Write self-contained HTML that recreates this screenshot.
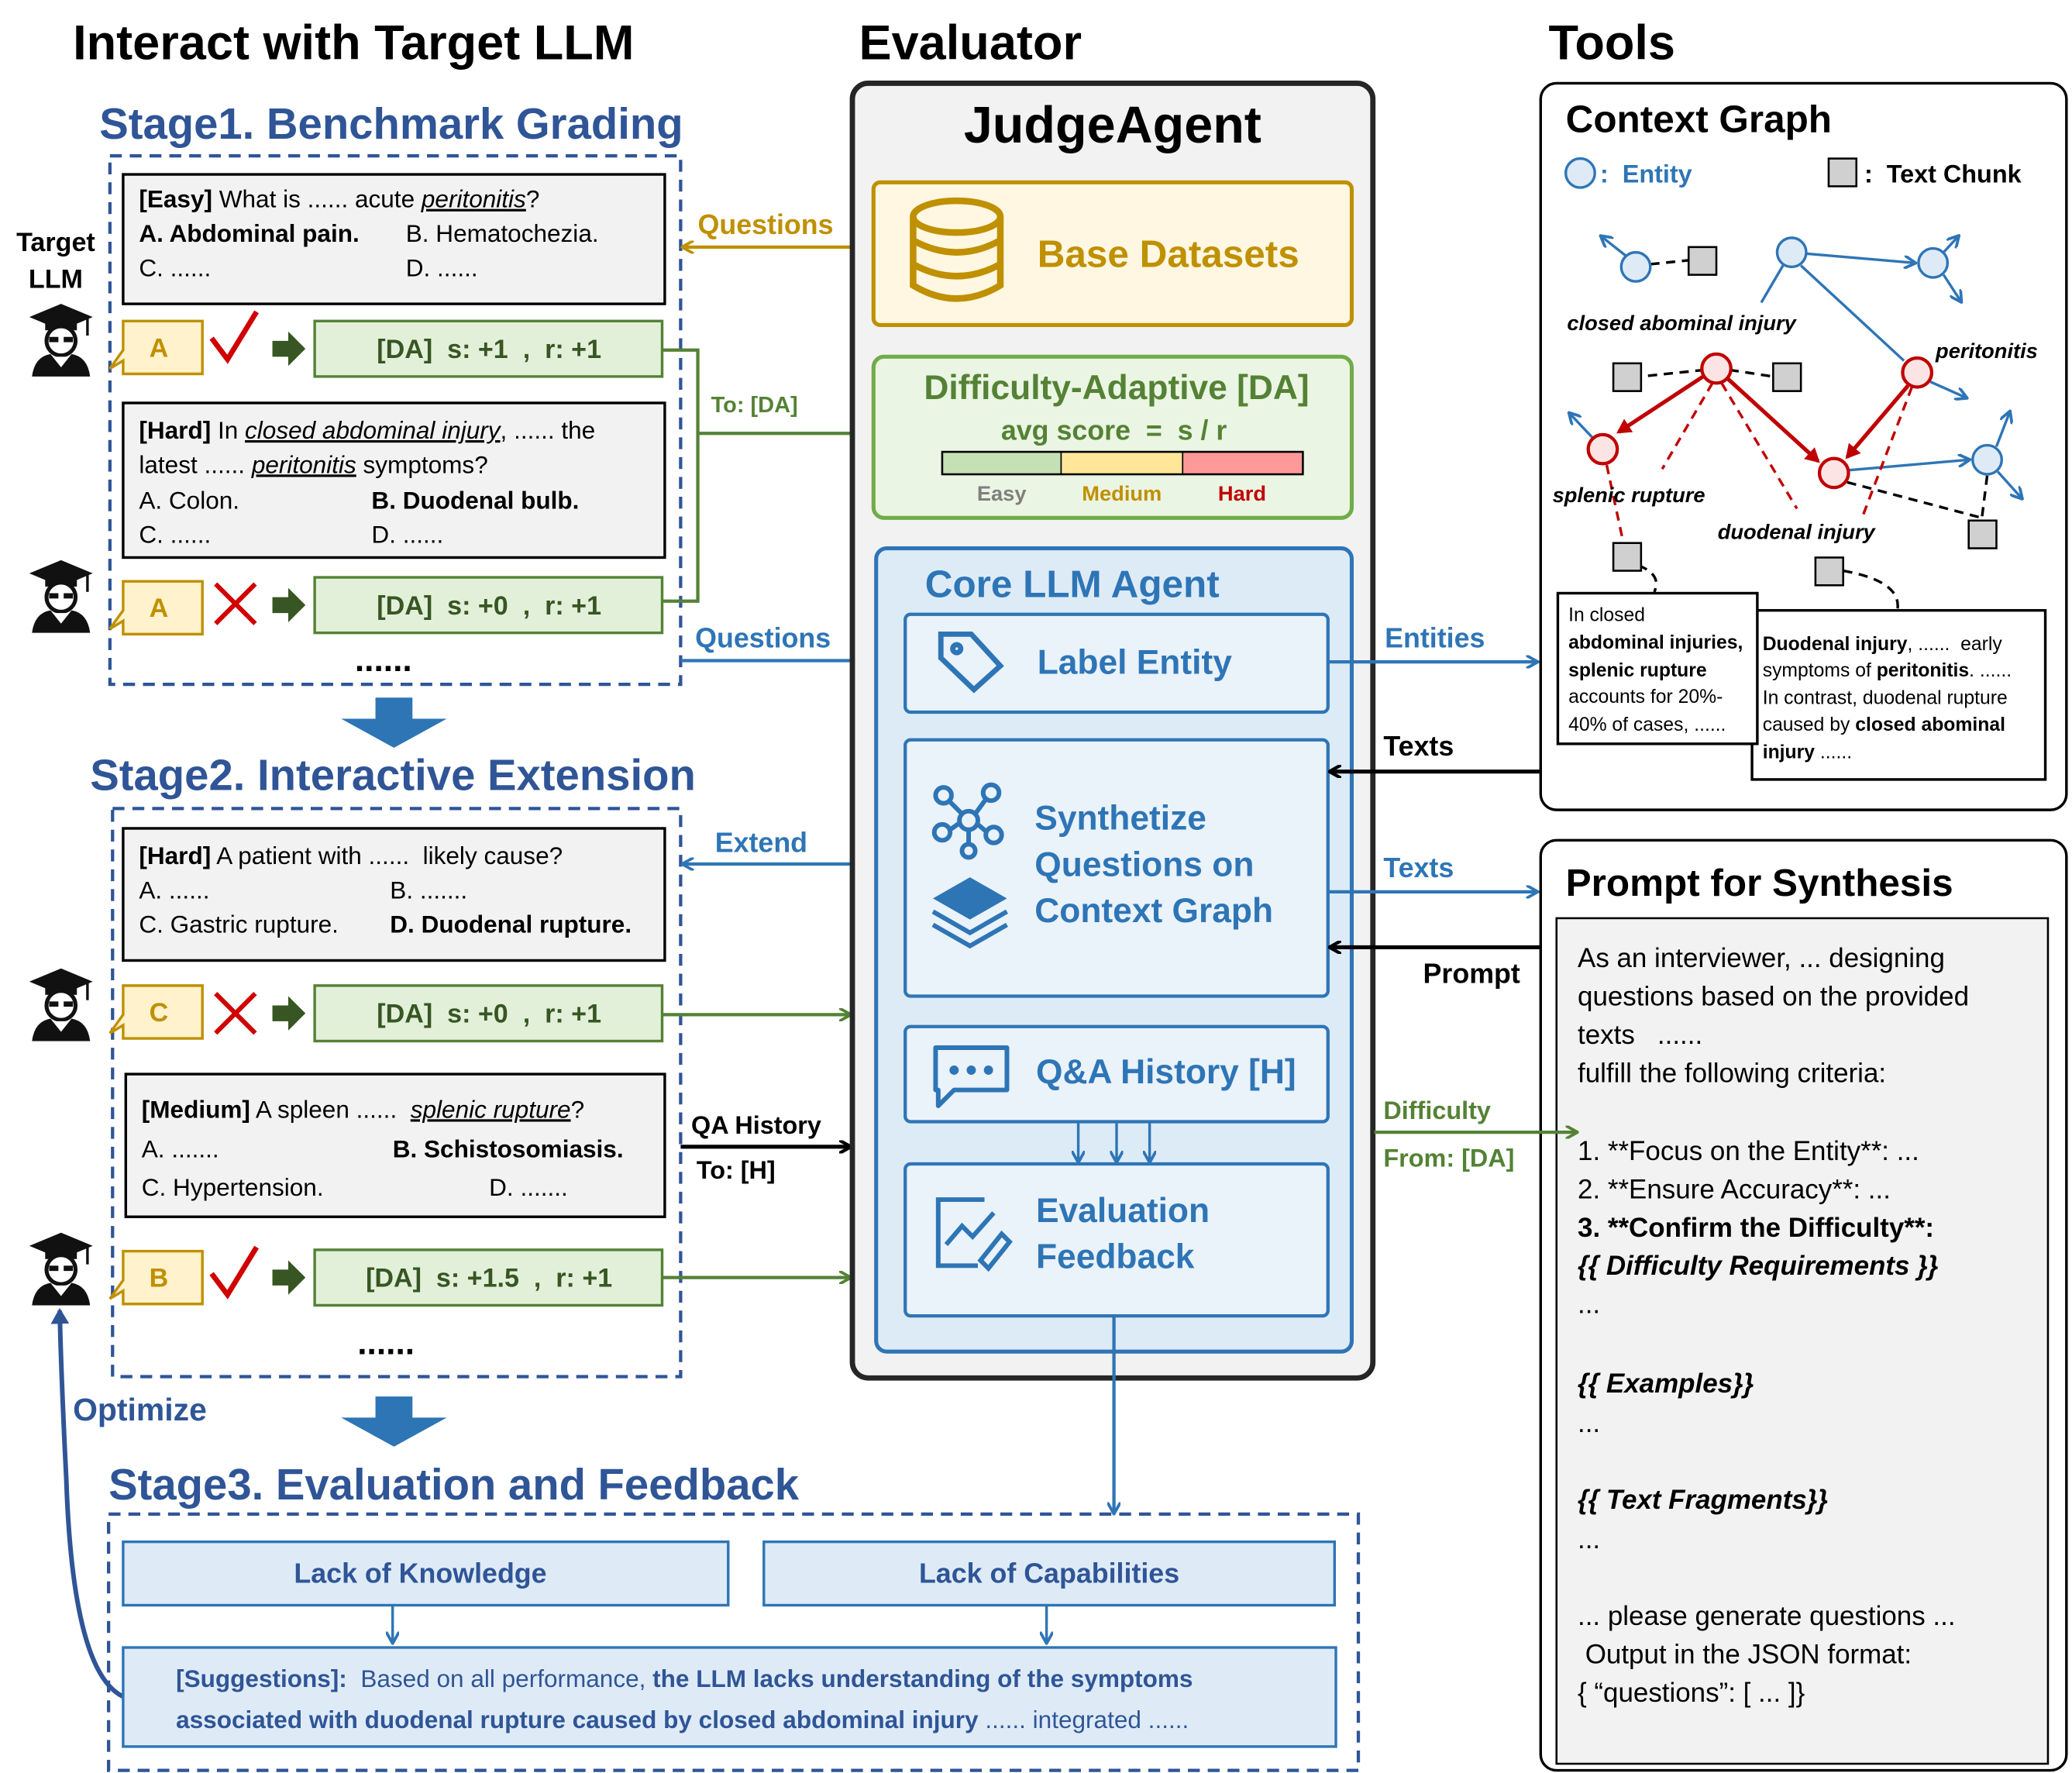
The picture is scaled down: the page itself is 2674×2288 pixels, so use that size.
<!DOCTYPE html>
<html><head><meta charset="utf-8">
<style>
html,body{margin:0;padding:0;background:#fff;}
svg{display:block;}
text{font-family:"Liberation Sans",Arial,sans-serif;white-space:pre;}
.b{font-weight:bold;}
.q{font-size:18.5px;}
</style></head><body>
<svg width="2674" height="2288" viewBox="0 0 1568 1342" xmlns="http://www.w3.org/2000/svg" xml:space="preserve">
<defs>
<marker id="ab" markerWidth="10" markerHeight="10" refX="8" refY="5" orient="auto" markerUnits="userSpaceOnUse"><path d="M0,0 L9,5 L0,10" fill="none" stroke="#2E75B6" stroke-width="2.2"/></marker>
<marker id="ak" markerWidth="10" markerHeight="10" refX="8" refY="5" orient="auto" markerUnits="userSpaceOnUse"><path d="M0,0 L9,5 L0,10" fill="none" stroke="#000" stroke-width="2.5"/></marker>
<marker id="ag" markerWidth="10" markerHeight="10" refX="8" refY="5" orient="auto" markerUnits="userSpaceOnUse"><path d="M0,0 L9,5 L0,10" fill="none" stroke="#548235" stroke-width="2.2"/></marker>
<marker id="ay" markerWidth="10" markerHeight="10" refX="8" refY="5" orient="auto" markerUnits="userSpaceOnUse"><path d="M0,0 L9,5 L0,10" fill="none" stroke="#BF9000" stroke-width="2.2"/></marker>
<marker id="ar" markerWidth="12" markerHeight="12" refX="9" refY="6" orient="auto" markerUnits="userSpaceOnUse"><path d="M0,0 L11,6 L0,12 Z" fill="#C00000"/></marker>
<marker id="ad" markerWidth="14" markerHeight="14" refX="10" refY="7" orient="auto" markerUnits="userSpaceOnUse"><path d="M0,0 L12,7 L0,14 Z" fill="#2F5597"/></marker>
<g id="person">
<polygon points="0,10 24,0 48,10 24,20" fill="#111"/>
<rect x="12" y="12" width="24" height="8" fill="#111"/>
<line x1="44" y1="11" x2="44" y2="24" stroke="#111" stroke-width="2"/>
<circle cx="24" cy="28" r="11" fill="#fff" stroke="#111" stroke-width="3"/>
<rect x="15" y="25" width="7" height="4" fill="#111"/><rect x="26" y="25" width="7" height="4" fill="#111"/>
<path d="M2,55 Q4,40 16,38 L24,48 L32,38 Q44,40 46,55 Z" fill="#111"/>
<path d="M20,40 L24,46 L28,40" fill="#fff"/>
</g>
<g id="check"><path d="M0,20 L12,36 L34,0" fill="none" stroke="#D00000" stroke-width="4"/></g>
<g id="cross"><path d="M0,0 L30,30 M30,0 L0,30" stroke="#D00000" stroke-width="3.5"/></g>
<g id="garr"><path d="M0,-6 L12,-6 L12,-13 L25,0 L12,13 L12,6 L0,6 Z" fill="#375623"/></g>
</defs>

<text x="55" y="45" font-size="37" class="b">Interact with Target LLM</text>
<text x="650" y="45" font-size="37" class="b">Evaluator</text>
<text x="1172" y="45" font-size="37" class="b">Tools</text>

<text x="75" y="105" font-size="33" class="b" fill="#2F5597">Stage1. Benchmark Grading</text>
<rect x="83" y="118" width="432" height="400" fill="none" stroke="#2F5597" stroke-width="2.5" stroke-dasharray="9,6"/>
<rect x="93" y="132" width="410" height="98" fill="#F2F2F2" stroke="#000" stroke-width="2"/>
<text x="105" y="157" class="q"><tspan class="b">[Easy]</tspan> What is ...... acute <tspan font-style="italic" text-decoration="underline">peritonitis</tspan>?</text>
<text x="105" y="183" class="q b">A. Abdominal pain.</text><text x="307" y="183" class="q">B. Hematochezia.</text>
<text x="105" y="209" class="q">C. ......</text><text x="307" y="209" class="q">D. ......</text>
<text x="42" y="190" font-size="20" class="b" text-anchor="middle">Target</text>
<text x="42" y="218" font-size="20" class="b" text-anchor="middle">LLM</text>
<use href="#person" x="22" y="230"/>
<path d="M93,243 h60 v40 h-60 v-10 l-10,6 l10,-14 Z" fill="#FFF2CC" stroke="#BF9000" stroke-width="2"/>
<text x="120" y="270" font-size="20" fill="#BF9000" class="b" text-anchor="middle">A</text>
<use href="#check" x="160" y="236"/>
<use href="#garr" x="206" y="264"/>
<rect x="238" y="243" width="263" height="42" fill="#E2F0D9" stroke="#548235" stroke-width="2"/>
<text x="370" y="271" font-size="20" class="b" fill="#375623" text-anchor="middle">[DA]  s: +1  ,  r: +1</text>

<rect x="93" y="305" width="410" height="117" fill="#F2F2F2" stroke="#000" stroke-width="2"/>
<text x="105" y="332" class="q"><tspan class="b">[Hard]</tspan> In <tspan font-style="italic" text-decoration="underline">closed abdominal injury</tspan>, ...... the</text>
<text x="105" y="358" class="q">latest ...... <tspan font-style="italic" text-decoration="underline">peritonitis</tspan> symptoms?</text>
<text x="105" y="385" class="q">A. Colon.</text><text x="281" y="385" class="q b">B. Duodenal bulb.</text>
<text x="105" y="411" class="q">C. ......</text><text x="281" y="411" class="q">D. ......</text>
<use href="#person" x="22" y="424"/>
<path d="M93,440 h60 v40 h-60 v-10 l-10,6 l10,-14 Z" fill="#FFF2CC" stroke="#BF9000" stroke-width="2"/>
<text x="120" y="467" font-size="20" fill="#BF9000" class="b" text-anchor="middle">A</text>
<use href="#cross" x="163" y="442"/>
<use href="#garr" x="206" y="458"/>
<rect x="238" y="437" width="263" height="42" fill="#E2F0D9" stroke="#548235" stroke-width="2"/>
<text x="370" y="465" font-size="20" class="b" fill="#375623" text-anchor="middle">[DA]  s: +0  ,  r: +1</text>
<text x="290" y="508" font-size="26" class="b" text-anchor="middle">......</text>

<path d="M501,265 H528 V455 H501" fill="none" stroke="#548235" stroke-width="2.5"/>
<line x1="528" y1="328" x2="658" y2="328" stroke="#548235" stroke-width="2.5" marker-end="url(#ag)"/>
<text x="538" y="312" font-size="17" class="b" fill="#548235">To: [DA]</text>
<line x1="660" y1="187" x2="517" y2="187" stroke="#BF9000" stroke-width="2.5" marker-end="url(#ay)"/>
<text x="528" y="177" font-size="21" class="b" fill="#BF9000">Questions</text>
<line x1="515" y1="500" x2="681" y2="500" stroke="#2E75B6" stroke-width="2.5" marker-end="url(#ab)"/>
<text x="526" y="490" font-size="21" class="b" fill="#2E75B6">Questions</text>

<path d="M284,528 h28 v16 h26 l-40,22 l-40,-22 h26 Z" fill="#2E75B6"/>
<path d="M284,1057 h28 v16 h26 l-40,22 l-40,-22 h26 Z" fill="#2E75B6"/>

<text x="68" y="598" font-size="33" class="b" fill="#2F5597">Stage2. Interactive Extension</text>
<rect x="85" y="612" width="430" height="430" fill="none" stroke="#2F5597" stroke-width="2.5" stroke-dasharray="9,6"/>
<rect x="93" y="627" width="410" height="100" fill="#F2F2F2" stroke="#000" stroke-width="2"/>
<text x="105" y="654" class="q"><tspan class="b">[Hard]</tspan> A patient with ......  likely cause?</text>
<text x="105" y="680" class="q">A. ......</text><text x="295" y="680" class="q">B. .......</text>
<text x="105" y="706" class="q">C. Gastric rupture.</text><text x="295" y="706" class="q b">D. Duodenal rupture.</text>
<use href="#person" x="22" y="733"/>
<path d="M93,746 h60 v40 h-60 v-10 l-10,6 l10,-14 Z" fill="#FFF2CC" stroke="#BF9000" stroke-width="2"/>
<text x="120" y="773" font-size="20" fill="#BF9000" class="b" text-anchor="middle">C</text>
<use href="#cross" x="163" y="752"/>
<use href="#garr" x="206" y="767"/>
<rect x="238" y="746" width="263" height="42" fill="#E2F0D9" stroke="#548235" stroke-width="2"/>
<text x="370" y="774" font-size="20" class="b" fill="#375623" text-anchor="middle">[DA]  s: +0  ,  r: +1</text>
<line x1="501" y1="768" x2="643" y2="768" stroke="#548235" stroke-width="2.5" marker-end="url(#ag)"/>

<rect x="95" y="813" width="408" height="108" fill="#F2F2F2" stroke="#000" stroke-width="2"/>
<text x="107" y="846" class="q"><tspan class="b">[Medium]</tspan> A spleen ......  <tspan font-style="italic" text-decoration="underline">splenic rupture</tspan>?</text>
<text x="107" y="876" class="q">A. .......</text><text x="297" y="876" class="q b">B. Schistosomiasis.</text>
<text x="107" y="905" class="q">C. Hypertension.</text><text x="370" y="905" class="q">D. .......</text>
<use href="#person" x="22" y="933"/>
<path d="M93,947 h60 v40 h-60 v-10 l-10,6 l10,-14 Z" fill="#FFF2CC" stroke="#BF9000" stroke-width="2"/>
<text x="120" y="974" font-size="20" fill="#BF9000" class="b" text-anchor="middle">B</text>
<use href="#check" x="160" y="944"/>
<use href="#garr" x="206" y="967"/>
<rect x="238" y="946" width="263" height="42" fill="#E2F0D9" stroke="#548235" stroke-width="2"/>
<text x="370" y="974" font-size="20" class="b" fill="#375623" text-anchor="middle">[DA]  s: +1.5  ,  r: +1</text>
<line x1="501" y1="967" x2="643" y2="967" stroke="#548235" stroke-width="2.5" marker-end="url(#ag)"/>
<text x="292" y="1025" font-size="26" class="b" text-anchor="middle">......</text>

<line x1="685" y1="654" x2="517" y2="654" stroke="#2E75B6" stroke-width="2.5" marker-end="url(#ab)"/>
<text x="541" y="645" font-size="21" class="b" fill="#2E75B6">Extend</text>
<line x1="515" y1="868" x2="643" y2="868" stroke="#000" stroke-width="3" marker-end="url(#ak)"/>
<text x="523" y="858" font-size="19" class="b">QA History</text>
<text x="527" y="892" font-size="19" class="b">To: [H]</text>

<path d="M95,1285 Q55,1270 50,1120 Q46,1040 45,992" fill="none" stroke="#2F5597" stroke-width="3.5" marker-end="url(#ad)"/>
<text x="55" y="1075" font-size="24" class="b" fill="#2F5597">Optimize</text>

<text x="82" y="1135" font-size="33" class="b" fill="#2F5597">Stage3. Evaluation and Feedback</text>
<rect x="82" y="1146" width="946" height="194" fill="none" stroke="#2F5597" stroke-width="2.5" stroke-dasharray="9,6"/>
<rect x="93" y="1167" width="458" height="48" fill="#DEEBF7" stroke="#2E75B6" stroke-width="2"/>
<text x="318" y="1198" font-size="21" class="b" fill="#2F5597" text-anchor="middle">Lack of Knowledge</text>
<rect x="578" y="1167" width="432" height="48" fill="#DEEBF7" stroke="#2E75B6" stroke-width="2"/>
<text x="794" y="1198" font-size="21" class="b" fill="#2F5597" text-anchor="middle">Lack of Capabilities</text>
<line x1="297" y1="1215" x2="297" y2="1243" stroke="#2E75B6" stroke-width="2" marker-end="url(#ab)"/>
<line x1="792" y1="1215" x2="792" y2="1243" stroke="#2E75B6" stroke-width="2" marker-end="url(#ab)"/>
<rect x="93" y="1247" width="918" height="75" fill="#DEEBF7" stroke="#2E75B6" stroke-width="2"/>
<text x="133" y="1277" font-size="18.5" fill="#2F5597"><tspan class="b">[Suggestions]:</tspan>  Based on all performance, <tspan class="b">the LLM lacks understanding of the symptoms</tspan></text>
<text x="133" y="1308" font-size="18.5" fill="#2F5597"><tspan class="b">associated with duodenal rupture caused by closed abdominal injury</tspan> ...... integrated ......</text>

<rect x="645" y="63" width="394" height="980" rx="12" fill="#F2F2F2" stroke="#262626" stroke-width="4"/>
<text x="842" y="108" font-size="39" class="b" text-anchor="middle">JudgeAgent</text>
<rect x="661" y="138" width="362" height="108" rx="5" fill="#FFF7E1" stroke="#BF9000" stroke-width="3"/>
<g fill="none" stroke="#BF9000" stroke-width="5">
<ellipse cx="724" cy="164" rx="33" ry="12"/>
<path d="M691,164 V216 Q724,236 757,216 V164"/>
<path d="M691,182 Q724,200 757,182"/><path d="M691,200 Q724,218 757,200"/>
</g>
<text x="785" y="202" font-size="29" class="b" fill="#BF9000">Base Datasets</text>
<rect x="661" y="270" width="362" height="122" rx="8" fill="#EBF5E3" stroke="#70AD47" stroke-width="3"/>
<text x="845" y="302" font-size="26" class="b" fill="#548235" text-anchor="middle">Difficulty-Adaptive [DA]</text>
<text x="843" y="333" font-size="21" class="b" fill="#548235" text-anchor="middle">avg score  =  s / r</text>
<rect x="713" y="342" width="90" height="17" fill="#C5E0B4"/><rect x="803" y="342" width="92" height="17" fill="#FFE699"/><rect x="895" y="342" width="91" height="17" fill="#FF9999"/>
<rect x="713" y="342" width="273" height="17" fill="none" stroke="#000" stroke-width="1.5"/>
<line x1="803" y1="342" x2="803" y2="359" stroke="#000"/><line x1="895" y1="342" x2="895" y2="359" stroke="#000"/>
<text x="758" y="379" font-size="16" class="b" fill="#7F7F7F" text-anchor="middle">Easy</text>
<text x="849" y="379" font-size="16" class="b" fill="#BF9000" text-anchor="middle">Medium</text>
<text x="940" y="379" font-size="16" class="b" fill="#C00000" text-anchor="middle">Hard</text>

<rect x="663" y="415" width="360" height="608" rx="8" fill="#DDEBF7" stroke="#2E75B6" stroke-width="3"/>
<text x="700" y="452" font-size="29" class="b" fill="#2E75B6">Core LLM Agent</text>
<rect x="685" y="465" width="320" height="74" rx="4" fill="#EAF2FA" stroke="#2E75B6" stroke-width="2.5"/>
<g fill="none" stroke="#2E75B6" stroke-width="4"><path d="M712,480 L735,480 L757,504 L737,522 L712,498 Z"/><circle cx="724" cy="491" r="3"/></g>
<text x="785" y="510" font-size="26" class="b" fill="#2E75B6">Label Entity</text>
<rect x="685" y="560" width="320" height="194" rx="4" fill="#EAF2FA" stroke="#2E75B6" stroke-width="2.5"/>
<g fill="none" stroke="#2E75B6" stroke-width="3.5">
<circle cx="733" cy="621" r="7"/><circle cx="714" cy="602" r="6"/><circle cx="750" cy="600" r="6"/><circle cx="713" cy="630" r="6"/><circle cx="752" cy="632" r="6"/><circle cx="733" cy="644" r="5"/>
<path d="M728,616 L718,606 M738,616 L746,605 M726,623 L719,628 M740,624 L747,630 M733,628 L733,639"/>
</g>
<path d="M734,664 L762,680 L734,696 L706,680 Z" fill="#2E75B6"/>
<path d="M706,690 L734,706 L762,690 M706,700 L734,716 L762,700" fill="none" stroke="#2E75B6" stroke-width="3.5"/>
<text x="783" y="628" font-size="26" class="b" fill="#2E75B6">Synthetize</text>
<text x="783" y="663" font-size="26" class="b" fill="#2E75B6">Questions on</text>
<text x="783" y="698" font-size="26" class="b" fill="#2E75B6">Context Graph</text>
<rect x="685" y="777" width="320" height="72" rx="4" fill="#EAF2FA" stroke="#2E75B6" stroke-width="2.5"/>
<path d="M708,793 h54 v32 h-40 l-12,12 v-12 h-2 Z" fill="none" stroke="#2E75B6" stroke-width="3.5" stroke-linejoin="round"/>
<circle cx="722" cy="810" r="3.5" fill="#2E75B6"/><circle cx="735" cy="810" r="3.5" fill="#2E75B6"/><circle cx="748" cy="810" r="3.5" fill="#2E75B6"/>
<text x="784" y="820" font-size="26" class="b" fill="#2E75B6">Q&amp;A History [H]</text>
<line x1="816" y1="849" x2="816" y2="879" stroke="#2E75B6" stroke-width="2" marker-end="url(#ab)"/>
<line x1="845" y1="849" x2="845" y2="879" stroke="#2E75B6" stroke-width="2" marker-end="url(#ab)"/>
<line x1="870" y1="849" x2="870" y2="879" stroke="#2E75B6" stroke-width="2" marker-end="url(#ab)"/>
<rect x="685" y="881" width="320" height="115" rx="4" fill="#EAF2FA" stroke="#2E75B6" stroke-width="2.5"/>
<g fill="none" stroke="#2E75B6" stroke-width="3.5"><path d="M745,908 H710 V958 H740"/><path d="M716,942 L728,928 L736,936 L752,918"/><path d="M748,960 L764,940 L758,934 L742,954 Z"/></g>
<text x="784" y="925" font-size="26" class="b" fill="#2E75B6">Evaluation</text>
<text x="784" y="960" font-size="26" class="b" fill="#2E75B6">Feedback</text>
<line x1="843" y1="996" x2="843" y2="1145" stroke="#2E75B6" stroke-width="2.5" marker-end="url(#ab)"/>

<line x1="1005" y1="501" x2="1163" y2="501" stroke="#2E75B6" stroke-width="2.5" marker-end="url(#ab)"/>
<text x="1048" y="490" font-size="21" class="b" fill="#2E75B6">Entities</text>
<line x1="1165" y1="584" x2="1007" y2="584" stroke="#000" stroke-width="3" marker-end="url(#ak)"/>
<text x="1047" y="572" font-size="21" class="b">Texts</text>
<line x1="1005" y1="675" x2="1163" y2="675" stroke="#2E75B6" stroke-width="2.5" marker-end="url(#ab)"/>
<text x="1047" y="664" font-size="21" class="b" fill="#2E75B6">Texts</text>
<line x1="1165" y1="717" x2="1007" y2="717" stroke="#000" stroke-width="3" marker-end="url(#ak)"/>
<text x="1077" y="744" font-size="21" class="b">Prompt</text>
<text x="1047" y="847" font-size="19" class="b" fill="#548235">Difficulty</text>
<text x="1047" y="883" font-size="19" class="b" fill="#548235">From: [DA]</text>

<rect x="1166" y="63" width="398" height="550" rx="12" fill="#fff" stroke="#000" stroke-width="2"/>
<text x="1185" y="100" font-size="29" class="b">Context Graph</text>
<circle cx="1196" cy="131" r="11" fill="#DEEBF7" stroke="#2E75B6" stroke-width="2"/>
<text x="1211" y="138" font-size="19" class="b" fill="#2E75B6">:  Entity</text>
<rect x="1384" y="120" width="21" height="21" fill="#D0D0D0" stroke="#000" stroke-width="1.5"/>
<text x="1411" y="138" font-size="19" class="b">:  Text Chunk</text>
<g stroke="#2E75B6" stroke-width="2" fill="none">
<line x1="1231" y1="194" x2="1212" y2="179" marker-end="url(#ab)"/>
<line x1="1350" y1="200" x2="1333" y2="229"/>
<line x1="1367" y1="192" x2="1449" y2="199" marker-end="url(#ab)"/>
<line x1="1471" y1="191" x2="1482" y2="179" marker-end="url(#ab)"/>
<line x1="1471" y1="208" x2="1484" y2="228" marker-end="url(#ab)"/>
<line x1="1363" y1="201" x2="1441" y2="273"/>
<line x1="1461" y1="289" x2="1488" y2="301" marker-end="url(#ab)"/>
<line x1="1205" y1="331" x2="1188" y2="313" marker-end="url(#ab)"/>
<line x1="1398" y1="356" x2="1490" y2="348" marker-end="url(#ab)"/>
<line x1="1511" y1="338" x2="1521" y2="312" marker-end="url(#ab)"/>
<line x1="1512" y1="357" x2="1530" y2="377" marker-end="url(#ab)"/>
</g>
<g stroke="#000" stroke-width="2" fill="none" stroke-dasharray="7,5">
<line x1="1249" y1="200" x2="1278" y2="197"/>
<line x1="1290" y1="280" x2="1242" y2="285"/>
<line x1="1309" y1="280" x2="1342" y2="285"/>
<line x1="1398" y1="365" x2="1500" y2="392"/>
<line x1="1504" y1="360" x2="1500" y2="392"/>
<path d="M1240,428 Q1258,435 1252,448"/>
<path d="M1395,432 Q1440,440 1436,462"/>
</g>
<g stroke="#C00000" stroke-width="3" fill="none">
<line x1="1289" y1="285" x2="1225" y2="327" marker-end="url(#ar)"/>
<line x1="1308" y1="287" x2="1376" y2="349" marker-end="url(#ar)"/>
<line x1="1444" y1="292" x2="1398" y2="346" marker-end="url(#ar)"/>
</g>
<g stroke="#C00000" stroke-width="2" fill="none" stroke-dasharray="7,5">
<line x1="1296" y1="290" x2="1258" y2="355"/>
<line x1="1303" y1="290" x2="1360" y2="385"/>
<line x1="1447" y1="293" x2="1410" y2="390"/>
<line x1="1216" y1="352" x2="1228" y2="408"/>
</g>
<g fill="#DEEBF7" stroke="#2E75B6" stroke-width="2">
<circle cx="1238" cy="202" r="11"/><circle cx="1356" cy="191" r="11"/><circle cx="1463" cy="199" r="11"/><circle cx="1504" cy="348" r="11"/>
</g>
<g fill="#FDE4E4" stroke="#C00000" stroke-width="2.5">
<circle cx="1299" cy="279" r="11"/><circle cx="1213" cy="340" r="11"/><circle cx="1388" cy="358" r="11"/><circle cx="1451" cy="282" r="11"/>
</g>
<g fill="#D0D0D0" stroke="#000" stroke-width="1.5">
<rect x="1278" y="187" width="21" height="21"/><rect x="1221" y="275" width="21" height="21"/><rect x="1342" y="275" width="21" height="21"/><rect x="1490" y="394" width="21" height="21"/><rect x="1221" y="411" width="21" height="21"/><rect x="1374" y="422" width="21" height="21"/>
</g>
<g font-size="16" font-weight="bold" font-style="italic">
<text x="1186" y="250">closed abominal injury</text>
<text x="1465" y="271">peritonitis</text>
<text x="1175" y="380">splenic rupture</text>
<text x="1300" y="408">duodenal injury</text>
</g>
<rect x="1326" y="462" width="222" height="128" fill="#fff" stroke="#000" stroke-width="2"/>
<rect x="1179" y="449" width="151" height="114" fill="#fff" stroke="#000" stroke-width="2"/>
<g font-size="14.5">
<text x="1187" y="470">In closed</text>
<text x="1187" y="491" class="b">abdominal injuries,</text>
<text x="1187" y="512"><tspan class="b">splenic rupture</tspan></text>
<text x="1187" y="532">accounts for 20%-</text>
<text x="1187" y="553">40% of cases, ......</text>
<text x="1334" y="492"><tspan class="b">Duodenal injury</tspan>, ......  early</text>
<text x="1334" y="512">symptoms of <tspan class="b">peritonitis</tspan>. ......</text>
<text x="1334" y="533">In contrast, duodenal rupture</text>
<text x="1334" y="553">caused by <tspan class="b">closed abominal</tspan></text>
<text x="1334" y="574"><tspan class="b">injury</tspan> ......</text>
</g>

<rect x="1166" y="636" width="398" height="704" rx="12" fill="#fff" stroke="#000" stroke-width="2"/>
<text x="1185" y="678" font-size="29" class="b">Prompt for Synthesis</text>
<rect x="1178" y="695" width="372" height="640" fill="#F2F2F2" stroke="#000" stroke-width="1.5"/>
<g font-size="20.5">
<text x="1194" y="732">As an interviewer, ... designing</text>
<text x="1194" y="761">questions based on the provided</text>
<text x="1194" y="790">texts   ......</text>
<text x="1194" y="819">fulfill the following criteria:</text>
<text x="1194" y="878">1. **Focus on the Entity**: ...</text>
<text x="1194" y="907">2. **Ensure Accuracy**: ...</text>
<text x="1194" y="936" class="b">3. **Confirm the Difficulty**:</text>
<text x="1194" y="965" class="b" font-style="italic">{{ Difficulty Requirements }}</text>
<text x="1194" y="994">...</text>
<text x="1194" y="1054" class="b" font-style="italic">{{ Examples}}</text>
<text x="1194" y="1084">...</text>
<text x="1194" y="1142" class="b" font-style="italic">{{ Text Fragments}}</text>
<text x="1194" y="1172">...</text>
<text x="1194" y="1230">... please generate questions ...</text>
<text x="1194" y="1259"> Output in the JSON format:</text>
<text x="1194" y="1288">{ “questions”: [ ... ]}</text>
</g>
<line x1="1040" y1="857" x2="1193" y2="857" stroke="#548235" stroke-width="2.5" marker-end="url(#ag)"/>
</svg>
</body></html>
